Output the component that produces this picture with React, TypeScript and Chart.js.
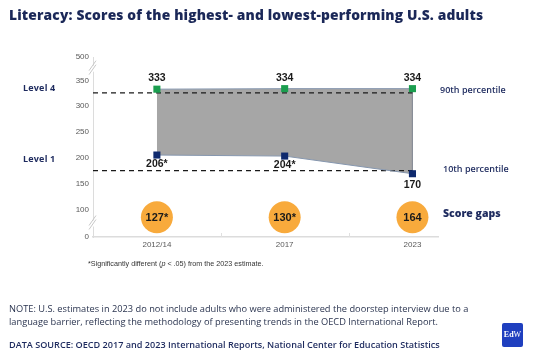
import React, { useEffect, useRef } from "react";
import { Chart, registerables } from "chart.js";

Chart.register(...registerables);

const categories = ["2012/14", "2017", "2023"];
const p90 = [333, 334, 334];
const p10 = [206, 204, 170];
const p10Sig = [true, true, false];
const gaps = [127, 130, 164];
const gapSig = [true, true, false];
const level4 = 326;
const level1 = 176;
const yTickLabels = [0, 100, 150, 200, 250, 300, 350, 500];

// broken-axis layout: where the out-of-range ticks sit on the linear display scale
const Y_MIN = 48;
const Y_MAX = 395;
const GAP_ROW = 86;
const toAxis = (v: number) => (v === 0 ? Y_MIN : v === 500 ? Y_MAX : v);

const NAVY = "#1d2a5e";
const ARIAL = "'Liberation Sans', Arial, sans-serif";
const HEAD = "'Open Sans', sans-serif";

const overlay = {
  id: "overlay",
  afterDraw(chart: any) {
    const ctx = chart.ctx;
    const y = chart.scales.y;
    const x = chart.scales.x;
    const area = chart.chartArea;
    ctx.save();
    // axis breaks
    const breaks = [(350 + Y_MAX) / 2, (Y_MIN + 100) / 2];
    breaks.forEach((bv) => {
      const py = y.getPixelForValue(bv);
      const px = area.left;
      ctx.fillStyle = "#ffffff";
      ctx.fillRect(px - 2, py - 3, 4, 6);
      ctx.strokeStyle = "#c8c8c8";
      ctx.lineWidth = 1;
      [-2, 2].forEach((d) => {
        ctx.beginPath();
        ctx.moveTo(px - 4, py + 4 + d);
        ctx.lineTo(px + 3, py - 6 + d);
        ctx.stroke();
      });
    });
    // small category separators on x axis
    ctx.strokeStyle = "#e0e0e0";
    ctx.lineWidth = 1;
    for (let i = 0; i < categories.length - 1; i++) {
      const px = Math.round(x.getPixelForValue(i + 0.5)) + 0.5;
      ctx.beginPath();
      ctx.moveTo(px, area.bottom - 4);
      ctx.lineTo(px, area.bottom);
      ctx.stroke();
    }
    // point labels
    ctx.fillStyle = "#1a1a1a";
    ctx.textAlign = "center";
    ctx.textBaseline = "middle";
    ctx.font = `bold 10.5px ${ARIAL}`;
    const m90 = chart.getDatasetMeta(0).data;
    const m10 = chart.getDatasetMeta(1).data;
    m90.forEach((pt: any, i: number) => {
      ctx.fillText(String(p90[i]), pt.x, pt.y - 11);
    });
    m10.forEach((pt: any, i: number) => {
      ctx.fillText(String(p10[i]) + (p10Sig[i] ? "*" : ""), pt.x, pt.y + (p10Sig[i] ? 9 : 11));
    });
    // gap bubbles text
    ctx.font = `bold 11px ${ARIAL}`;
    const mg = chart.getDatasetMeta(5).data;
    mg.forEach((pt: any, i: number) => {
      ctx.fillText(String(gaps[i]) + (gapSig[i] ? "*" : ""), pt.x, pt.y + 0.5);
    });
    ctx.restore();
  },
};

function T(props: { x: number; cy: number; size: number; weight?: number; color?: string; font?: string; children: any; ls?: number }) {
  return (
    <div
      style={{
        position: "absolute",
        left: props.x,
        top: props.cy - props.size / 2,
        fontSize: props.size,
        lineHeight: `${props.size}px`,
        fontWeight: props.weight ?? 400,
        color: props.color ?? NAVY,
        fontFamily: props.font ?? HEAD,
        whiteSpace: "nowrap",
        letterSpacing: props.ls ?? 0,
      }}
    >
      {props.children}
    </div>
  );
}

export default function App() {
  const ref = useRef<HTMLCanvasElement | null>(null);
  useEffect(() => {
    if (!ref.current) return;
    const edge = "#8596ae";
    const chart = new Chart(ref.current, {
      type: "line",
      data: {
        datasets: [
          {
            label: "90th percentile",
            data: p90.map((v, i) => ({ x: i, y: v })),
            borderColor: edge,
            borderWidth: 1,
            backgroundColor: "#a6a6a6",
            fill: "+1",
            pointStyle: "rect",
            pointRadius: 5,
            pointBackgroundColor: "#1b9e4f",
            pointBorderWidth: 0,
            tension: 0,
            order: 0,
          },
          {
            label: "10th percentile",
            data: p10.map((v, i) => ({ x: i, y: v })),
            borderColor: edge,
            borderWidth: 1,
            fill: false,
            pointStyle: "rect",
            pointRadius: 5,
            pointBackgroundColor: "#0f2a6e",
            pointBorderWidth: 0,
            tension: 0,
            order: 0,
          },
          {
            label: "Level 4",
            data: [
              { x: -0.5, y: level4 },
              { x: categories.length - 1, y: level4 },
            ],
            borderColor: "#1a1a1a",
            borderWidth: 1.3,
            borderDash: [5, 4],
            pointRadius: 0,
            fill: false,
            order: 1,
          },
          {
            label: "Level 1",
            data: [
              { x: -0.5, y: level1 },
              { x: categories.length - 1, y: level1 },
            ],
            borderColor: "#1a1a1a",
            borderWidth: 1.3,
            borderDash: [5, 4],
            pointRadius: 0,
            fill: false,
            order: 1,
          },
          {
            label: "edge",
            data: [
              { x: categories.length - 1, y: p90[p90.length - 1] },
              { x: categories.length - 1, y: p10[p10.length - 1] },
            ],
            borderColor: "#8a8f98",
            borderWidth: 1,
            pointRadius: 0,
            fill: false,
            order: 2,
          },
          {
            label: "Score gaps",
            data: gaps.map((_, i) => ({ x: i, y: GAP_ROW })),
            showLine: false,
            pointRadius: 16,
            pointBackgroundColor: "#f8aa3c",
            pointBorderWidth: 0,
            fill: false,
            order: 3,
          },
        ],
      },
      options: {
        animation: false,
        responsive: false,
        events: [],
        layout: { padding: { top: 57, right: 102, left: 0, bottom: 0 } },
        plugins: {
          legend: { display: false },
          tooltip: { enabled: false },
          filler: { drawTime: "beforeDatasetsDraw" },
        } as any,
        scales: {
          x: {
            type: "linear",
            min: -0.5,
            max: 2.2,
            afterBuildTicks: (s: any) => {
              s.ticks = categories.map((_, i) => ({ value: i }));
            },
            ticks: {
              callback: (_v: any, i: number) => categories[i],
              font: { family: ARIAL, size: 8 },
              color: "#595959",
              padding: 3,
              autoSkip: false,
              maxRotation: 0,
            },
            grid: { display: false, drawTicks: false },
            border: { color: "#dcdcdc", width: 1.5 },
            afterFit: (s: any) => {
              s.height = 124;
            },
          },
          y: {
            type: "linear",
            min: Y_MIN,
            max: Y_MAX,
            afterBuildTicks: (s: any) => {
              s.ticks = yTickLabels.map((v) => ({ value: toAxis(v) }));
            },
            ticks: {
              callback: (_v: any, i: number) => String(yTickLabels[i]),
              font: { family: ARIAL, size: 8 },
              color: "#595959",
              padding: 4,
              autoSkip: false,
            },
            grid: { display: false, drawTicks: false },
            border: { color: "#dcdcdc", width: 1 },
            afterFit: (s: any) => {
              s.width = 93;
            },
          },
        },
      } as any,
      plugins: [overlay],
    });
    return () => chart.destroy();
  }, []);

  return (
    <div style={{ position: "absolute", left: 0, top: 0, width: 540, height: 361, background: "#fff", overflow: "hidden" }}>
      <canvas ref={ref} width={540} height={361} style={{ position: "absolute", left: 0, top: 0 }} />
      <T x={9} cy={15} size={13.8} weight={800} color="#1b2858" ls={0.15}>
        Literacy: Scores of the highest- and lowest-performing U.S. adults
      </T>
      <T x={23} cy={87} size={9} weight={700} ls={0.2}>Level 4</T>
      <T x={23} cy={158} size={9} weight={700} ls={0.2}>Level 1</T>
      <T x={440} cy={89} size={9} weight={600}>90th percentile</T>
      <T x={443} cy={168} size={9} weight={600}>10th percentile</T>
      <T x={443} cy={213} size={10.5} weight={800}>Score gaps</T>
      <T x={88} cy={264} size={7.2} color="#333" font={ARIAL}>
        *Significantly different (<i>p</i> &lt; .05) from the 2023 estimate.
      </T>
      <T x={9} cy={309} size={9.25} color="#2b3550">
        NOTE: U.S. estimates in 2023 do not include adults who were administered the doorstep interview due to a
      </T>
      <T x={9} cy={322} size={9.25} color="#2b3550">
        language barrier, reflecting the methodology of presenting trends in the OECD International Report.
      </T>
      <T x={9} cy={345} size={9.1} weight={600} color="#1d2a5e">
        DATA SOURCE: OECD 2017 and 2023 International Reports, National Center for Education Statistics
      </T>
      <div
        style={{
          position: "absolute",
          left: 502,
          top: 323,
          width: 21,
          height: 24,
          background: "#1f3fbf",
          borderRadius: 2,
          color: "#fff",
          fontFamily: "'Liberation Serif', serif",
          fontSize: 8,
          lineHeight: "24px",
          textAlign: "center",
        }}
      >
        <b>Ed</b>W
      </div>
    </div>
  );
}
